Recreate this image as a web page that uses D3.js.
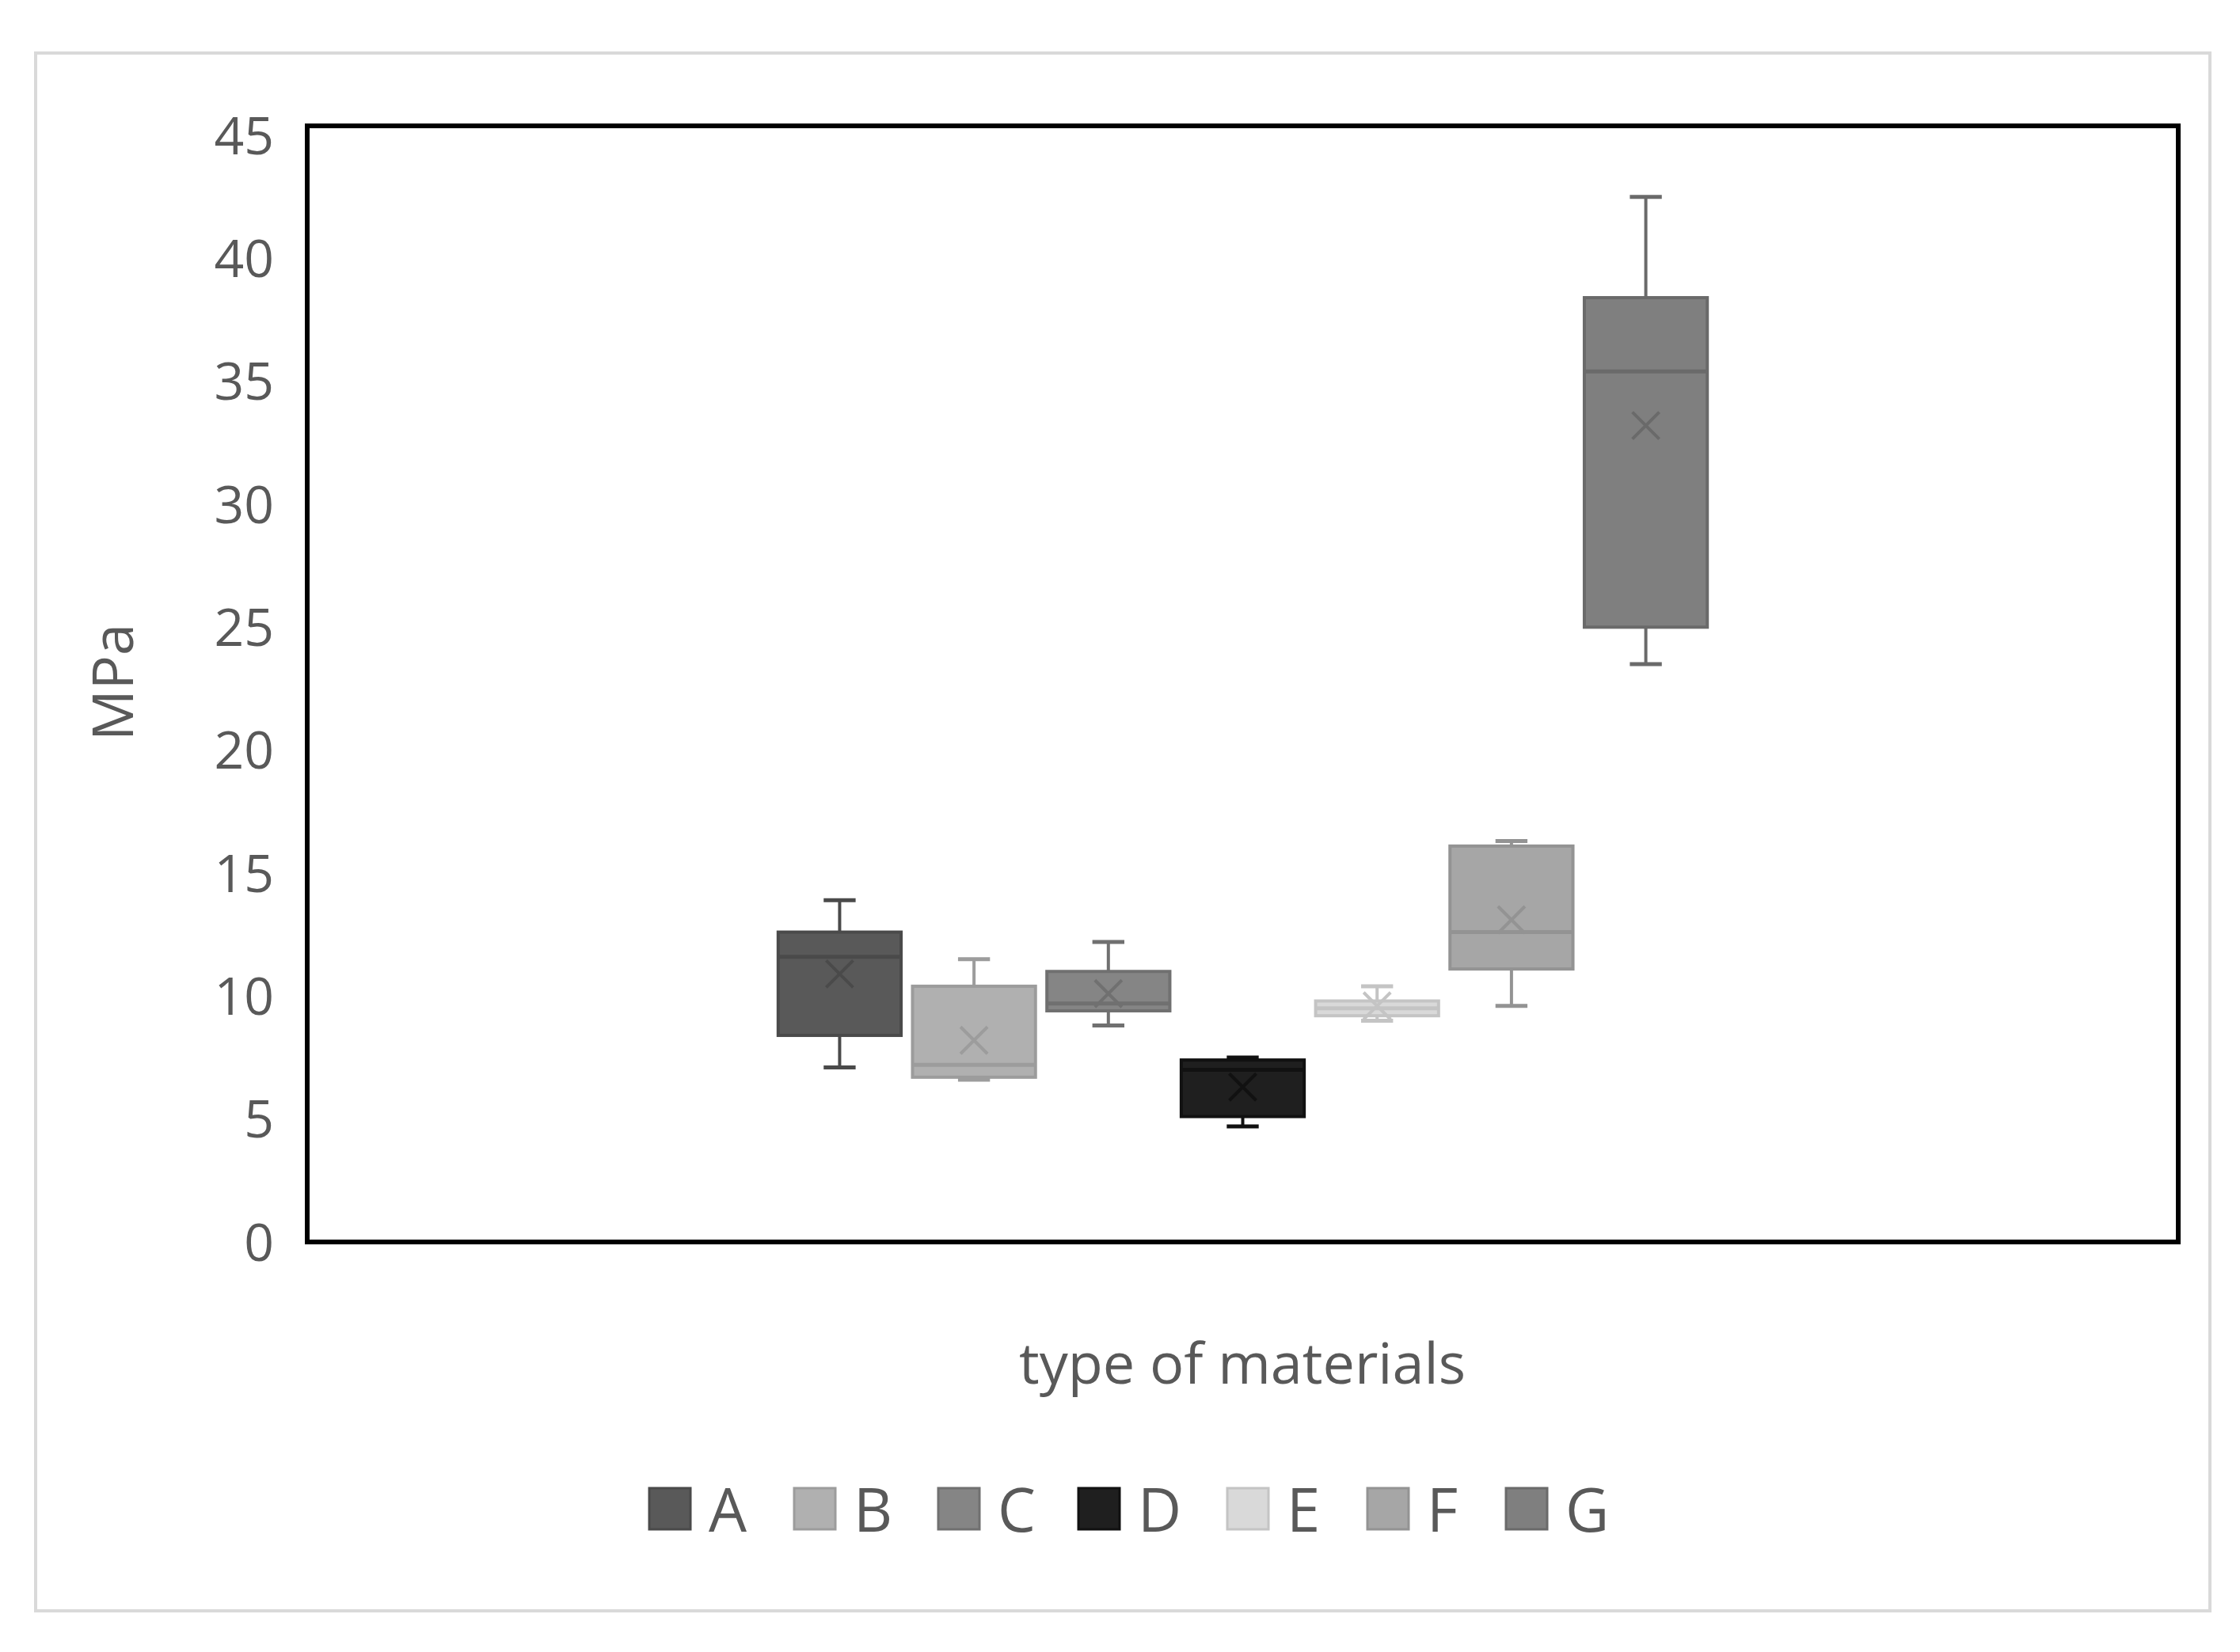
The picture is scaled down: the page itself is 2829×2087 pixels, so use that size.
<!DOCTYPE html><html><head><meta charset="utf-8"><script src="https://cdn.jsdelivr.net/npm/d3@7"></script>
<style>body{margin:0;background:#fff}</style></head><body><script>
const categories=["A","B","C","D","E","F","G"];
const whiskerLow=[7.1,6.6,8.8,4.7,9.0,9.6,23.5];
const q1=[8.4,6.7,9.4,5.1,9.2,11.1,25.0];
const median=[11.6,7.2,9.7,7.0,9.5,12.6,35.4];
const q3=[12.6,10.4,11.0,7.4,9.8,16.1,38.4];
const whiskerHigh=[13.9,11.5,12.2,7.5,10.4,16.3,42.5];
const means=[10.9,8.2,10.1,6.3,9.6,13.1,33.2];
const yTicks=[0,5,10,15,20,25,30,35,40,45];
const fills=["#595959","#b0b0b0","#858585","#1f1f1f","#d9d9d9","#a6a6a6","#7f7f7f"];
const lines=["#4a4a4a","#9c9c9c","#707070","#111","#c4c4c4","#939393","#6a6a6a"];

const W=2829,H=2087;
const svg=d3.select("body").append("svg").attr("width",W).attr("height",H);
svg.append("rect").attr("x",45).attr("y",67).attr("width",2746).attr("height",1968).attr("fill","#fff").attr("stroke","#d9d9d9").attr("stroke-width",4);
const L=388,R=2751,T=159,B=1569;
const y=d3.scaleLinear().domain([0,45]).range([B,171]);
const cx=(L+R)/2, span=1187;
const x=d3.scaleBand().domain(categories).range([cx-span/2,cx+span/2]).paddingInner(0.085).paddingOuter(0.04);
const g=svg.append("g");
categories.forEach((c,i)=>{
  const x0=x(c),bw=x.bandwidth(),m=x0+bw/2,cw=bw*0.26;
  const s=lines[i];
  g.append("line").attr("x1",m).attr("x2",m).attr("y1",y(whiskerHigh[i])).attr("y2",y(q3[i])).attr("stroke",s).attr("stroke-width",4);
  g.append("line").attr("x1",m).attr("x2",m).attr("y1",y(whiskerLow[i])).attr("y2",y(q1[i])).attr("stroke",s).attr("stroke-width",4);
  [whiskerHigh[i],whiskerLow[i]].forEach(v=>g.append("line").attr("x1",m-cw/2).attr("x2",m+cw/2).attr("y1",y(v)).attr("y2",y(v)).attr("stroke",s).attr("stroke-width",5));
  g.append("rect").attr("x",x0).attr("y",y(q3[i])).attr("width",bw).attr("height",y(q1[i])-y(q3[i])).attr("fill",fills[i]).attr("stroke",s).attr("stroke-width",4);
  g.append("line").attr("x1",x0).attr("x2",x0+bw).attr("y1",y(median[i])).attr("y2",y(median[i])).attr("stroke",s).attr("stroke-width",5);
  const my=y(means[i]),d=17;
  g.append("path").attr("d",`M${m-d},${my-d}L${m+d},${my+d}M${m-d},${my+d}L${m+d},${my-d}`).attr("stroke",s).attr("stroke-width",4).attr("fill","none");
});
svg.append("rect").attr("x",L).attr("y",T).attr("width",R-L).attr("height",B-T).attr("fill","none").attr("stroke","#000").attr("stroke-width",6);
const ax=svg.append("g").attr("transform",`translate(${L},0)`).call(d3.axisLeft(y).tickValues(yTicks).tickSize(0).tickPadding(42));
ax.select(".domain").remove();
ax.selectAll("text").attr("font-family","Open Sans, sans-serif").attr("font-size",66).attr("fill","#595959").attr("dy","0.35em");
svg.append("text").attr("transform","translate(168,862) rotate(-90)").attr("text-anchor","middle").attr("font-family","Open Sans, sans-serif").attr("font-size",72).attr("fill","#595959").text("MPa");
svg.append("text").attr("x",1569).attr("y",1748).attr("text-anchor","middle").attr("font-family","Open Sans, sans-serif").attr("font-size",72).attr("fill","#595959").text("type of materials");
const lx=[820,1003,1185,1362,1550,1727,1902];
categories.forEach((c,i)=>{
  svg.append("rect").attr("x",lx[i]).attr("y",1880).attr("width",52).attr("height",52).attr("fill",fills[i]).attr("stroke",lines[i]).attr("stroke-width",3);
  svg.append("text").attr("x",lx[i]+75).attr("y",1935).attr("font-family","Open Sans, sans-serif").attr("font-size",76).attr("fill","#595959").text(c);
});
</script></body></html>
